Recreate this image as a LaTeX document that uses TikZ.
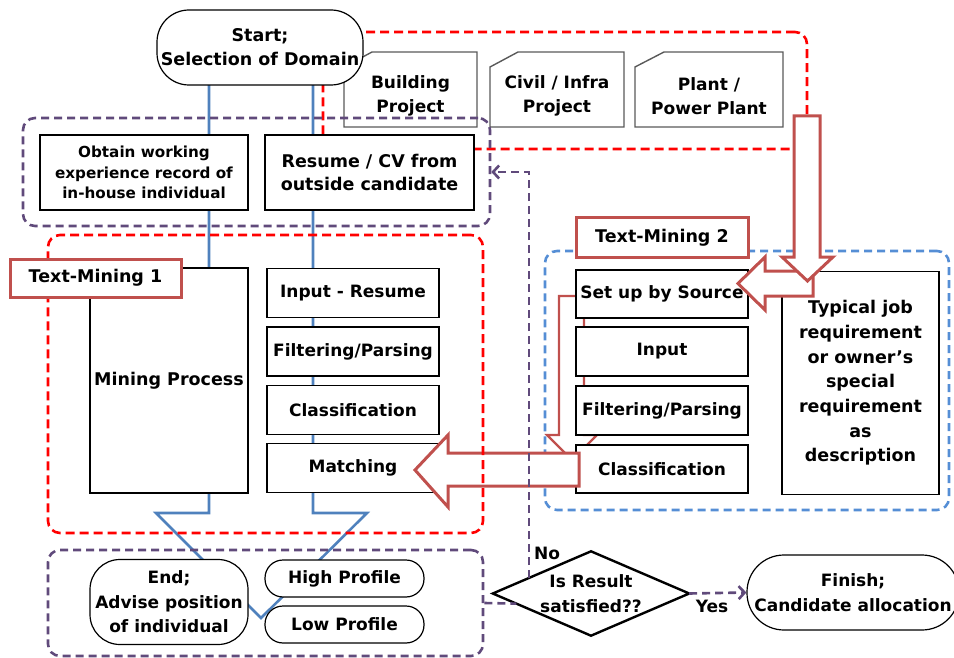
\documentclass[tikz,border=0pt]{standalone}
\usepackage{fontspec}
\setmainfont{DejaVu Sans}
\usetikzlibrary{arrows.meta,calc}
\definecolor{redD}{RGB}{255,0,0}
\definecolor{purp}{RGB}{96,74,123}
\definecolor{blueL}{RGB}{79,129,189}
\definecolor{blueD}{RGB}{85,142,213}
\definecolor{redA}{RGB}{192,80,77}
\definecolor{grayB}{RGB}{89,89,89}
\begin{document}
\begin{tikzpicture}[x=1pt,y=-1pt,
  font=\bfseries\fontsize{17}{24.5}\selectfont,
  box/.style={draw=black, line width=1.2pt, fill=white, inner sep=0pt, align=center},
  dombox/.style={draw=grayB, line width=1.4pt},
  grp/.style={line width=2.6pt, rounded corners=12pt, dash pattern=on 8pt off 5pt, inner sep=0pt},
  lab/.style={draw=redA, line width=3pt, fill=white, inner sep=0pt, font=\bfseries\fontsize{17.5}{24}\selectfont},
  barrow/.style={draw=redA, line width=3pt, fill=white, line join=miter},
  blueline/.style={draw=blueL, line width=2.6pt},
  pconn/.style={draw=purp, line width=2.6pt, dash pattern=on 8pt off 5pt},
  tip/.style={-{Straight Barb[length=6pt,width=13pt]}}
]
\useasboundingbox (0,0) rectangle (954,658);

% blue block arrow outline
\draw[blueline] (209,85) -- (209,513) -- (156,513) -- (261,618) -- (367,513) -- (313,513) -- (313,85);

% domain group
\node[grp, draw=redD, dash pattern=on 9pt off 5pt, minimum width=484, minimum height=117] (domgrp) at (565,90.5) {};

% domain boxes
\node[align=center] (bld) at (410.5,96) {Building\\Project};
\draw[dombox] (344,127) -- (477,127) -- (477,52) -- (372,52) -- (344,67) -- cycle;
\node[align=center] (civ) at (557,96) {Civil / Infra\\Project};
\draw[dombox] (490,127) -- (624,127) -- (624,52) -- (518,52) -- (490,67) -- cycle;
\node[align=center] (plt) at (709,96) {Plant /\\Power Plant};
\draw[dombox] (635,127) -- (783,127) -- (783,52) -- (664,52) -- (635,67) -- cycle;

% start node
\node[box, rounded corners=32pt, minimum width=206, minimum height=75, font=\bfseries\fontsize{17.5}{24}\selectfont] (start) at (260,47.5) {Start;\\Selection of Domain};

% input group
\node[grp, draw=purp, minimum width=467, minimum height=108] (ingrp) at (256.5,172) {};
\node[box, minimum width=208, minimum height=75, font=\bfseries\fontsize{15.2}{20.5}\selectfont] (obtain) at (144,172.5) {Obtain working\\experience record of\\in-house individual};
\node[box, minimum width=209, minimum height=75, font=\bfseries\fontsize{17.5}{23}\selectfont] (resume) at (369.5,172.5) {Resume / CV from\\outside candidate};

% Text-Mining 2 group
\node[grp, draw=blueD, minimum width=404, minimum height=259] (tm2grp) at (747,380.5) {};
\draw[draw=redA, line width=2.2pt, line join=miter] (584,296) -- (559,296) -- (559,435) -- (547,435) -- (572,460) -- (597,435) -- (584,435) -- cycle;
\node[lab, minimum width=172, minimum height=39] (tm2) at (662,237.5) {Text-Mining 2};
\node[box, minimum width=172, minimum height=48] (setup) at (662,294) {};
\node[box, minimum width=172, minimum height=49] (inp2) at (662,351.5) {Input};
\node[box, minimum width=172, minimum height=49] (filt2) at (662,410.5) {Filtering/Parsing};
\node[box, minimum width=172, minimum height=48] (class2) at (662,469) {Classification};
\node[box, minimum width=157, minimum height=223, font=\bfseries\fontsize{17.5}{24.7}\selectfont] (typ) at (860.5,383) {Typical job\\requirement\\or owner’s\\special\\requirement\\as\\description};
\draw[barrow] (738,283.5) -- (765,257) -- (765,271) -- (813,271) -- (813,296) -- (765,296) -- (765,310) -- cycle;
\draw[barrow] (794,116) -- (820,116) -- (820,257) -- (833,257) -- (807.5,281) -- (782,257) -- (794,257) -- cycle;
\node (setuptxt) at (setup) {Set up by Source};

% Text-Mining 1
\node[box, minimum width=158, minimum height=225, font=\bfseries\fontsize{17.5}{24}\selectfont] (mining) at (169,380.5) {Mining Process};
\node[box, minimum width=172, minimum height=49] (inp1) at (353,293) {Input - Resume};
\node[box, minimum width=172, minimum height=49] (filt1) at (353,351.5) {Filtering/Parsing};
\node[box, minimum width=172, minimum height=49] (class1) at (353,410) {Classification};
\node[box, minimum width=172, minimum height=49] (match) at (353,468) {Matching};
\draw[barrow] (415,470) -- (448,435) -- (448,453) -- (579,453) -- (579,486) -- (448,486) -- (448,507) -- cycle;
\node[grp, draw=redD, dash pattern=on 9pt off 5pt, minimum width=435, minimum height=298] (tm1grp) at (265.5,384) {};
\node[lab, minimum width=171, minimum height=38] (tm1) at (95.5,278) {Text-Mining 1};

% bottom group
\node[grp, draw=purp, minimum width=435, minimum height=106] (botgrp) at (265.5,603) {};
\node[box, rounded corners=30pt, minimum width=158, minimum height=85] (endn) at (169,602) {End;\\Advise position\\of individual};
\node[box, rounded corners=18pt, minimum width=159, minimum height=37] (high) at (344.5,578.5) {High Profile};
\node[box, rounded corners=18pt, minimum width=159, minimum height=37] (low) at (344.5,624.5) {Low Profile};

% decision
\node[inner sep=0pt, minimum width=196, minimum height=84, align=center] (dec) at (591,593.5) {Is Result\\satisfied??};
\draw[black, line width=2.4pt, line join=miter] (dec.west) -- (dec.north) -- (dec.east) -- (dec.south) -- cycle;
\node[box, rounded corners=37pt, minimum width=212, minimum height=75] (fin) at (853,592.5) {Finish;\\Candidate allocation};

% connectors
\draw[pconn, tip] ($(dec.west)!0.367!(dec.north)$) |- (ingrp.east);
\draw[pconn] (botgrp.east) -- ($(dec.west)!0.24!(dec.south)$);
\draw[pconn, tip] (dec.east) -- (fin.west);
\node (no) at (547,553) {No};
\node (yes) at (712,606) {Yes};
\end{tikzpicture}
\end{document}
